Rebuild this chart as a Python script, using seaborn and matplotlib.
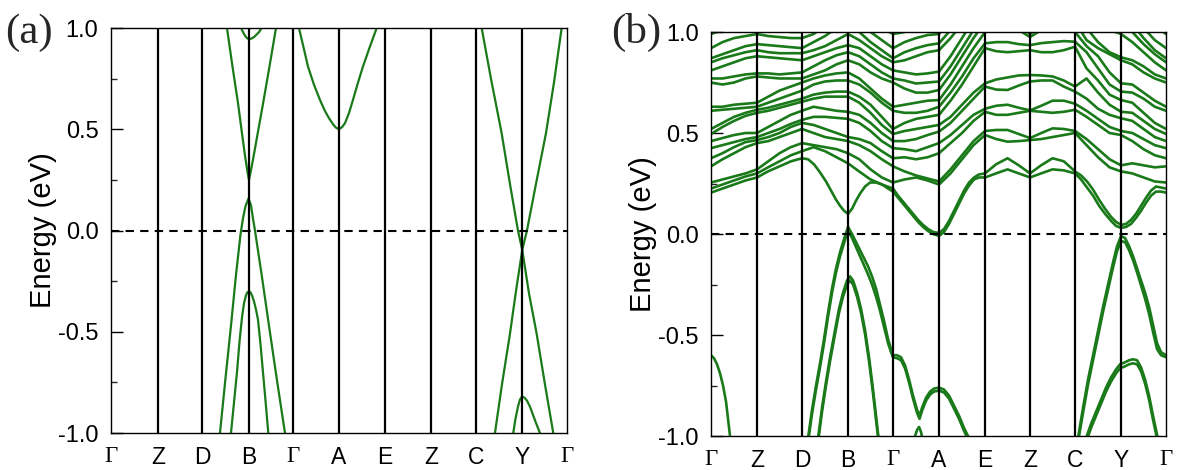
import numpy as np
import pandas as pd
import matplotlib
matplotlib.use("Agg")
import matplotlib.pyplot as plt
from matplotlib.ticker import MultipleLocator
import seaborn as sns

# ---------------------------------------------------------------- path / axes
kpath_labels = ["Γ", "Z", "D", "B", "Γ", "A", "E", "Z", "C", "Y", "Γ"]
kticks_a = [0, 47, 91, 138, 182, 228, 274, 320, 365, 411, 456]
kticks_b = [0, 46, 91, 137, 182, 228, 274, 319, 364, 410, 455]
ytick_vals = [-1.0, -0.5, 0.0, 0.5, 1.0]
ytick_labels = ["-1.0", "-0.5", "0.0", "0.5", "1.0"]

# ---------------------------------------------------------------- panel (a)
# each band is given as (k, E) samples along the path
a_cone_k = [110, 116, 121.5, 127, 131, 134, 136.5, 138, 139.5, 142, 146, 152, 158.5, 165, 170]
a_cone_E = [1.15, 1.0, 0.81, 0.63, 0.48, 0.37, 0.29, 0.25, 0.285, 0.35, 0.46, 0.625, 0.81, 1.0, 1.14]
a_topB_k = [129, 131, 134, 136, 138, 140, 143, 148, 152]
a_topB_E = [1.02, 0.99, 0.962, 0.95, 0.945, 0.947, 0.955, 0.98, 1.01]
a_vb1_k = [105, 109, 114.5, 120, 125, 129.5, 132, 134.5, 137.5, 140, 142, 144, 151, 158, 166, 174, 178]
a_vb1_E = [-1.15, -1.0, -0.73, -0.47, -0.22, -0.02, 0.06, 0.12, 0.158, 0.125, 0.06, 0.0,
           -0.23, -0.47, -0.74, -1.0, -1.12]
a_vb2_k = [117, 120, 123, 126, 128.5, 131, 133, 135, 136.5, 138, 139.5, 141, 143, 145, 147,
           149.5, 152, 154.7, 157.3, 160]
a_vb2_E = [-1.15, -1.0, -0.85, -0.70, -0.55, -0.43, -0.36, -0.32, -0.305, -0.30, -0.305, -0.32,
           -0.35, -0.39, -0.44, -0.56, -0.70, -0.85, -1.0, -1.15]
a_cbA_k = [183, 188, 193, 197, 203, 209, 214, 218, 222, 225, 228, 231, 234, 238, 242, 247, 252,
           258, 265.7, 270]
a_cbA_E = [1.1, 1.0, 0.895, 0.81, 0.72, 0.645, 0.59, 0.555, 0.525, 0.508, 0.5, 0.51, 0.53, 0.58,
           0.645, 0.73, 0.81, 0.895, 1.0, 1.06]
a_cbY_k = [366, 370.7, 380, 390.7, 399, 407, 411.3, 416, 425, 435, 443, 450.7, 455]
a_cbY_E = [1.12, 1.0, 0.75, 0.48, 0.23, 0.0, -0.096, 0.0, 0.23, 0.48, 0.73, 1.0, 1.12]
a_vbY_k = [380, 384, 391, 399, 405, 411.3, 418, 425.7, 434, 442.3, 446]
a_vbY_E = [-1.12, -1.0, -0.76, -0.51, -0.30, -0.096, -0.31, -0.51, -0.76, -1.0, -1.11]
a_vbY2_k = [400, 402.3, 404.5, 407, 409, 411, 413.5, 416, 419, 422, 425, 429, 432]
a_vbY2_E = [-1.08, -1.0, -0.93, -0.87, -0.835, -0.82, -0.825, -0.84, -0.87, -0.91, -0.95, -1.0, -1.05]

bands_a = {
    "cone": (a_cone_k, a_cone_E), "topB": (a_topB_k, a_topB_E),
    "vb1": (a_vb1_k, a_vb1_E), "vb2": (a_vb2_k, a_vb2_E),
    "cbA": (a_cbA_k, a_cbA_E), "cbY": (a_cbY_k, a_cbY_E),
    "vbY": (a_vbY_k, a_vbY_E), "vbY2": (a_vbY2_k, a_vbY2_E),
}

# ---------------------------------------------------------------- panel (b)
# bands near the Fermi level, sampled densely as (k, E)
b_v1_k = [0, 3, 6, 9, 12, 15, 19, 22, 30, 46, 91, 95, 97.3, 101, 105, 109, 113, 117, 121, 125, 129,
          133, 137, 141, 145, 149, 153, 157, 161, 165, 169, 173, 177, 180, 182, 186, 190, 194, 198,
          202, 206, 208.5, 211, 215, 219, 223, 228, 233, 238, 243, 248, 253, 257, 262, 274, 319,
          355, 364, 367.3, 372, 377, 382, 387, 392, 397, 402, 406, 410, 414, 418, 422, 426, 430,
          434, 438, 442, 446, 450, 455]
b_v1_E = [-0.60, -0.615, -0.645, -0.69, -0.75, -0.83, -1.0, -1.12, -1.4, -1.6, -1.3, -1.09, -1.0,
          -0.87, -0.75, -0.64, -0.52, -0.39, -0.27, -0.17, -0.09, -0.025, 0.035, 0.0, -0.04, -0.08,
          -0.12, -0.16, -0.21, -0.27, -0.35, -0.43, -0.52, -0.57, -0.60, -0.60, -0.61, -0.65, -0.72,
          -0.80, -0.87, -0.90, -0.86, -0.81, -0.78, -0.765, -0.76, -0.77, -0.80, -0.85, -0.90, -0.96,
          -1.0, -1.08, -1.3, -1.5, -1.3, -1.12, -1.0, -0.86, -0.72, -0.60, -0.48, -0.36, -0.25, -0.14,
          -0.06, -0.01, -0.02, -0.06, -0.11, -0.17, -0.23, -0.29, -0.36, -0.45, -0.54, -0.585, -0.60]
# split partners of the top valence band around B, A and Y
b_v1s_B_k = [97.3, 101, 105, 109, 113, 117, 121, 125, 129, 133, 137, 141, 145, 149, 153, 157, 161,
             165, 169, 173, 177, 180, 182]
b_v1s_B_E = [-1.02, -0.89, -0.77, -0.66, -0.54, -0.41, -0.29, -0.19, -0.11, -0.045, 0.02, -0.02,
             -0.065, -0.11, -0.155, -0.20, -0.25, -0.31, -0.38, -0.46, -0.54, -0.585, -0.61]
b_v1s_A_k = [182, 186, 190, 194, 198, 202, 206, 208.5, 211, 215, 219, 223, 228, 233, 238, 243, 248,
             253, 257, 262]
b_v1s_A_E = [-0.61, -0.615, -0.625, -0.665, -0.735, -0.815, -0.885, -0.915, -0.875, -0.825, -0.795,
             -0.78, -0.775, -0.785, -0.815, -0.865, -0.915, -0.975, -1.015, -1.09]
b_v1s_Y_k = [364, 367.3, 372, 377, 382, 387, 392, 397, 402, 406, 410, 414, 418, 422, 426, 430, 434,
             438, 442, 446, 450, 455]
b_v1s_Y_E = [-1.13, -1.02, -0.885, -0.745, -0.625, -0.505, -0.385, -0.275, -0.165, -0.085, -0.035,
             -0.04, -0.08, -0.13, -0.19, -0.255, -0.32, -0.395, -0.485, -0.57, -0.60, -0.61]
b_v2_k = [0, 46, 91, 104, 107.3, 111, 115, 119, 124, 128, 132, 136, 139, 142, 146, 150, 154, 158,
          162, 167.3, 171, 182, 195, 200, 204, 206, 208, 210, 212, 215, 225, 274, 319, 364, 372,
          375.7, 380, 385, 390, 395, 400, 405, 409, 414, 418, 422, 426, 430, 434, 438, 442, 446.3,
          449, 455]
b_v2_E = [-1.3, -1.5, -1.4, -1.12, -1.0, -0.86, -0.73, -0.61, -0.475, -0.37, -0.29, -0.23, -0.21,
          -0.23, -0.29, -0.37, -0.475, -0.61, -0.77, -1.0, -1.15, -1.3, -1.2, -1.1, -1.0, -0.97,
          -0.955, -0.98, -1.03, -1.1, -1.3, -1.5, -1.5, -1.3, -1.06, -1.0, -0.94, -0.88, -0.82,
          -0.76, -0.71, -0.67, -0.645, -0.635, -0.625, -0.62, -0.625, -0.66, -0.72, -0.80, -0.90,
          -1.0, -1.08, -1.3]
b_v2s_B_k = [104, 107.3, 111, 115, 119, 124, 128, 132, 136, 139, 142, 146, 150, 154, 158, 162,
             167.3, 171]
b_v2s_B_E = [-1.14, -1.02, -0.88, -0.75, -0.63, -0.495, -0.39, -0.31, -0.25, -0.23, -0.25, -0.31,
             -0.39, -0.495, -0.63, -0.79, -1.02, -1.17]
b_v2s_Y_k = [372, 375.7, 380, 385, 390, 395, 400, 405, 409, 414, 418, 422, 426, 430, 434, 438, 442,
             446.3, 449]
b_v2s_Y_E = [-1.08, -1.02, -0.96, -0.90, -0.84, -0.78, -0.73, -0.69, -0.665, -0.655, -0.645, -0.64,
             -0.645, -0.68, -0.74, -0.82, -0.92, -1.02, -1.1]
b_c1_k = [0, 11.5, 23, 34.5, 46, 57, 68.5, 80, 91, 97, 103, 109, 115, 120, 125, 129, 133, 137, 141,
          145, 149, 154, 159, 165, 171, 177, 182, 187, 192, 197, 202, 207, 212, 217, 222, 228, 233,
          238, 243, 248, 253, 258, 263, 268, 274, 285, 296.5, 307.75, 319, 330, 341.5, 352.75, 364,
          370, 376, 382, 388, 394, 400, 405, 410, 415, 420, 425, 430, 435, 440, 445, 450, 455]
b_c1_E = [0.205, 0.225, 0.245, 0.265, 0.28, 0.31, 0.335, 0.36, 0.375, 0.37, 0.345, 0.305, 0.26,
          0.215, 0.17, 0.14, 0.115, 0.10, 0.125, 0.165, 0.20, 0.235, 0.255, 0.255, 0.245, 0.225,
          0.21, 0.18, 0.15, 0.12, 0.09, 0.06, 0.035, 0.015, 0.0, -0.01, 0.01, 0.05, 0.10, 0.15,
          0.20, 0.24, 0.27, 0.28, 0.28, 0.30, 0.32, 0.30, 0.28, 0.30, 0.32, 0.315, 0.30, 0.27,
          0.23, 0.19, 0.14, 0.10, 0.065, 0.04, 0.03, 0.035, 0.05, 0.08, 0.115, 0.155, 0.19, 0.21,
          0.21, 0.205]
b_c2_k = [0, 11.5, 23, 34.5, 46, 57, 68.5, 80, 91, 102.5, 114, 125.5, 137, 148, 159.5, 171, 182,
          187, 192, 197, 202, 207, 212, 217, 222, 228, 233, 238, 243, 248, 253, 258, 263, 268, 274,
          285, 296.5, 307.75, 319, 330, 341.5, 352.75, 364, 370, 376, 382, 388, 394, 400, 405, 410,
          415, 420, 425, 430, 435, 440, 445, 450, 455]
b_c2_E = [0.225, 0.245, 0.265, 0.285, 0.30, 0.33, 0.36, 0.39, 0.41, 0.43, 0.41, 0.38, 0.35, 0.31,
          0.27, 0.245, 0.225, 0.19, 0.16, 0.13, 0.10, 0.07, 0.045, 0.025, 0.01, 0.005, 0.025,
          0.065, 0.115, 0.165, 0.215, 0.255, 0.28, 0.295, 0.30, 0.345, 0.375, 0.34, 0.30, 0.34,
          0.375, 0.36, 0.31, 0.29, 0.26, 0.22, 0.17, 0.125, 0.085, 0.06, 0.045, 0.05, 0.07, 0.10,
          0.14, 0.18, 0.215, 0.235, 0.23, 0.225]

# higher conduction bands on a path sampled at quarter points of every segment
kgrid_b = np.concatenate(
    [np.linspace(kticks_b[i], kticks_b[i + 1], 5)[:-1] for i in range(10)]
    + [[kticks_b[-1]]])

b_c3 = [0.255, 0.27, 0.285, 0.30, 0.32, 0.36, 0.40, 0.43, 0.45, 0.44, 0.43, 0.42, 0.40, 0.37, 0.32, 0.28,
        0.255, 0.27, 0.28, 0.265, 0.245, 0.30, 0.37, 0.44, 0.49, 0.47, 0.457, 0.46, 0.465, 0.47, 0.48, 0.49,
        0.50, 0.44, 0.38, 0.33, 0.31, 0.30, 0.28, 0.26, 0.255]
b_c4 = [0.335, 0.37, 0.40, 0.43, 0.45, 0.46, 0.48, 0.50, 0.52, 0.50, 0.48, 0.47, 0.46, 0.44, 0.41, 0.37,
        0.335, 0.31, 0.29, 0.275, 0.26, 0.32, 0.39, 0.46, 0.51, 0.515, 0.515, 0.495, 0.475, 0.50, 0.523, 0.52,
        0.51, 0.47, 0.42, 0.37, 0.34, 0.35, 0.34, 0.33, 0.335]
b_c5 = [0.375, 0.40, 0.43, 0.455, 0.465, 0.48, 0.50, 0.53, 0.55, 0.54, 0.52, 0.50, 0.48, 0.47, 0.45, 0.41,
        0.375, 0.38, 0.37, 0.38, 0.40, 0.45, 0.50, 0.56, 0.605, 0.59, 0.59, 0.60, 0.61, 0.605, 0.60, 0.605,
        0.615, 0.58, 0.54, 0.50, 0.49, 0.46, 0.42, 0.39, 0.375]
b_c6 = [0.425, 0.44, 0.455, 0.47, 0.48, 0.50, 0.52, 0.545, 0.565, 0.58, 0.58, 0.575, 0.57, 0.55, 0.51, 0.46,
        0.425, 0.42, 0.41, 0.43, 0.45, 0.49, 0.54, 0.59, 0.62, 0.635, 0.64, 0.625, 0.612, 0.635, 0.66, 0.66,
        0.645, 0.61, 0.57, 0.53, 0.51, 0.50, 0.47, 0.44, 0.425]
b_c7 = [0.46, 0.475, 0.49, 0.50, 0.50, 0.53, 0.56, 0.59, 0.61, 0.63, 0.62, 0.61, 0.605, 0.59, 0.55, 0.50,
        0.46, 0.46, 0.47, 0.49, 0.507, 0.55, 0.61, 0.67, 0.73, 0.715, 0.713, 0.735, 0.755, 0.76, 0.76, 0.73,
        0.705, 0.67, 0.62, 0.59, 0.573, 0.56, 0.52, 0.48, 0.46]
b_c8 = [0.495, 0.53, 0.56, 0.585, 0.60, 0.61, 0.625, 0.64, 0.655, 0.67, 0.68, 0.68, 0.68, 0.65, 0.60, 0.54,
        0.495, 0.51, 0.52, 0.53, 0.54, 0.58, 0.64, 0.70, 0.746, 0.765, 0.775, 0.785, 0.787, 0.785, 0.78, 0.76,
        0.73, 0.77, 0.70, 0.64, 0.605, 0.60, 0.56, 0.52, 0.495]
b_c9 = [0.52, 0.55, 0.58, 0.60, 0.615, 0.625, 0.64, 0.655, 0.67, 0.69, 0.70, 0.705, 0.705, 0.68, 0.64, 0.58,
        0.52, 0.55, 0.57, 0.58, 0.59, 0.66, 0.74, 0.83, 0.92, 0.905, 0.90, 0.905, 0.91, 0.90, 0.90, 0.91,
        0.927, 0.82, 0.76, 0.69, 0.663, 0.65, 0.60, 0.55, 0.52]
b_c10 = [0.61, 0.615, 0.62, 0.625, 0.63, 0.65, 0.67, 0.69, 0.71, 0.74, 0.755, 0.76, 0.76, 0.74, 0.70, 0.65,
         0.61, 0.60, 0.60, 0.61, 0.63, 0.70, 0.78, 0.87, 0.944, 0.95, 0.95, 0.94, 0.935, 0.945, 0.95, 0.955,
         0.952, 0.90, 0.82, 0.74, 0.705, 0.70, 0.67, 0.63, 0.61]
b_c11 = [0.63, 0.63, 0.64, 0.645, 0.65, 0.68, 0.71, 0.73, 0.75, 0.77, 0.785, 0.795, 0.80, 0.77, 0.72, 0.67,
         0.63, 0.64, 0.65, 0.66, 0.663, 0.74, 0.83, 0.92, 1.0, 1.03, 1.05, 1.01, 0.975, 1.01, 1.04, 1.02,
         1.0, 0.93, 0.88, 0.80, 0.746, 0.74, 0.70, 0.66, 0.63]
b_c12 = [0.75, 0.74, 0.75, 0.77, 0.78, 0.775, 0.77, 0.77, 0.77, 0.79, 0.81, 0.84, 0.86, 0.84, 0.80, 0.77,
         0.75, 0.72, 0.70, 0.70, 0.713, 0.79, 0.88, 0.97, 1.05, 1.08, 1.10, 1.05, 0.99, 1.04, 1.08, 1.07,
         1.05, 0.96, 0.92, 0.89, 0.86, 0.84, 0.80, 0.77, 0.75]
b_c13 = [0.77, 0.77, 0.78, 0.79, 0.795, 0.795, 0.79, 0.795, 0.80, 0.83, 0.86, 0.885, 0.90, 0.88, 0.84, 0.80,
         0.77, 0.76, 0.745, 0.75, 0.755, 0.83, 0.92, 1.01, 1.10, 1.12, 1.15, 1.13, 1.10, 1.12, 1.14, 1.12,
         1.10, 1.02, 0.95, 0.90, 0.875, 0.86, 0.83, 0.79, 0.77]
b_c14 = [0.81, 0.83, 0.85, 0.87, 0.88, 0.875, 0.87, 0.865, 0.86, 0.88, 0.90, 0.92, 0.935, 0.92, 0.88, 0.84,
         0.81, 0.80, 0.79, 0.795, 0.804, 0.88, 0.97, 1.06, 1.15, 1.17, 1.2, 1.18, 1.15, 1.17, 1.19, 1.17,
         1.15, 1.10, 1.05, 1.01, 0.99, 0.95, 0.90, 0.85, 0.81]
b_c15 = [0.85, 0.87, 0.885, 0.90, 0.91, 0.90, 0.895, 0.895, 0.895, 0.91, 0.93, 0.96, 0.99, 0.96, 0.92, 0.88,
         0.85, 0.86, 0.88, 0.90, 0.91, 0.97, 1.04, 1.12, 1.2, 1.22, 1.25, 1.23, 1.2, 1.22, 1.24, 1.22,
         1.2, 1.15, 1.1, 1.07, 1.05, 1.0, 0.94, 0.89, 0.85]
b_c16 = [0.87, 0.89, 0.91, 0.93, 0.94, 0.935, 0.93, 0.925, 0.92, 0.95, 0.98, 1.02, 1.05, 1.0, 0.95, 0.91,
         0.87, 0.90, 0.92, 0.935, 0.944, 1.01, 1.08, 1.17, 1.25, 1.27, 1.3, 1.28, 1.25, 1.27, 1.29, 1.27,
         1.25, 1.2, 1.15, 1.12, 1.1, 1.04, 0.97, 0.91, 0.87]
b_c17 = [0.92, 0.95, 0.97, 0.98, 0.99, 0.98, 0.975, 0.97, 0.97, 0.99, 1.03, 1.07, 1.1, 1.05, 1.0, 0.96,
         0.92, 0.95, 0.97, 0.985, 0.99, 1.06, 1.13, 1.22, 1.3, 1.32, 1.35, 1.33, 1.3, 1.32, 1.34, 1.32,
         1.3, 1.25, 1.2, 1.17, 1.15, 1.08, 1.02, 0.96, 0.92]
b_c18 = [0.99, 1.01, 1.03, 1.04, 1.05, 1.03, 1.01, 1.0, 1.0, 1.03, 1.07, 1.11, 1.15, 1.1, 1.06, 1.02,
         0.99, 1.0, 1.01, 1.02, 1.03, 1.1, 1.18, 1.27, 1.35, 1.37, 1.4, 1.38, 1.35, 1.37, 1.39, 1.37,
         1.35, 1.3, 1.25, 1.22, 1.2, 1.14, 1.08, 1.03, 0.99]

bands_b = {"v2": (b_v2_k, b_v2_E), "v2s_B": (b_v2s_B_k, b_v2s_B_E), "v2s_Y": (b_v2s_Y_k, b_v2s_Y_E),
           "v1": (b_v1_k, b_v1_E), "v1s_B": (b_v1s_B_k, b_v1s_B_E),
           "v1s_A": (b_v1s_A_k, b_v1s_A_E), "v1s_Y": (b_v1s_Y_k, b_v1s_Y_E),
           "c1": (b_c1_k, b_c1_E), "c2": (b_c2_k, b_c2_E)}
for name, e in {"c3": b_c3, "c4": b_c4, "c5": b_c5, "c6": b_c6, "c7": b_c7, "c8": b_c8,
                "c9": b_c9, "c10": b_c10, "c11": b_c11, "c12": b_c12, "c13": b_c13,
                "c14": b_c14, "c15": b_c15, "c16": b_c16, "c17": b_c17, "c18": b_c18}.items():
    bands_b[name] = (kgrid_b, e)

# ---------------------------------------------------------------- tables
df_a = pd.concat([pd.DataFrame({"k": k, "E": e, "band": name})
                  for name, (k, e) in bands_a.items()], ignore_index=True)
df_b = pd.concat([pd.DataFrame({"k": k, "E": e, "band": name})
                  for name, (k, e) in bands_b.items()], ignore_index=True)

# ---------------------------------------------------------------- drawing
GREEN = "#1a7a1a"
sns.set_theme(style="ticks")
plt.rcParams["font.family"] = ["Liberation Sans", "DejaVu Sans"]
plt.rcParams["axes.edgecolor"] = "black"
plt.rcParams["axes.linewidth"] = 1.0

fig = plt.figure(figsize=(11.77, 4.70), dpi=100)
ax_a = fig.add_axes([0.0943, 0.0787, 0.3874, 0.8617])
ax_b = fig.add_axes([0.6041, 0.0723, 0.3866, 0.8596])


def draw_panel(ax, df, kt, lw):
    sns.lineplot(data=df, x="k", y="E", units="band", estimator=None, sort=False,
                 color=GREEN, linewidth=lw, legend=False, ax=ax, zorder=2)
    ax.set_xlim(kt[0], kt[-1])
    ax.set_ylim(-1.0, 1.0)
    for k in kt[1:-1]:
        ax.axvline(k, color="black", lw=1.6, zorder=3)
    ax.axhline(0.0, color="black", lw=1.5, ls=(0, (4, 3)), zorder=3)
    ax.set_xticks(kt)
    ax.set_xticklabels(kpath_labels)
    for t in ax.get_xticklabels():
        if t.get_text() == "Γ":
            t.set_fontfamily("Liberation Serif")
            t.set_fontsize(19)
    ax.set_yticks(ytick_vals)
    ax.set_yticklabels(ytick_labels)
    ax.yaxis.set_minor_locator(MultipleLocator(0.25))
    ax.tick_params(axis="y", which="major", direction="in", length=8.5, width=1.0,
                   pad=9, labelsize=17, colors="black")
    ax.tick_params(axis="y", which="minor", direction="in", length=4.5, width=1.0)
    ax.tick_params(axis="x", length=0, pad=9, labelsize=16.5, colors="black")
    ax.set_xlabel("")
    ax.set_ylabel("Energy (eV)", fontsize=21, labelpad=1, color="black")
    for s in ax.spines.values():
        s.set_visible(True)
        s.set_color("black")
        s.set_linewidth(1.0)
        s.set_zorder(4)


draw_panel(ax_a, df_a, kticks_a, 1.6)
draw_panel(ax_b, df_b, kticks_b, 1.9)

fig.text(0.004, 0.93, "(a)", fontfamily="Liberation Serif", fontsize=31,
         ha="left", va="center")
fig.text(0.519, 0.93, "(b)", fontfamily="Liberation Serif", fontsize=31,
         ha="left", va="center")

fig.savefig("out.png", dpi=100)
